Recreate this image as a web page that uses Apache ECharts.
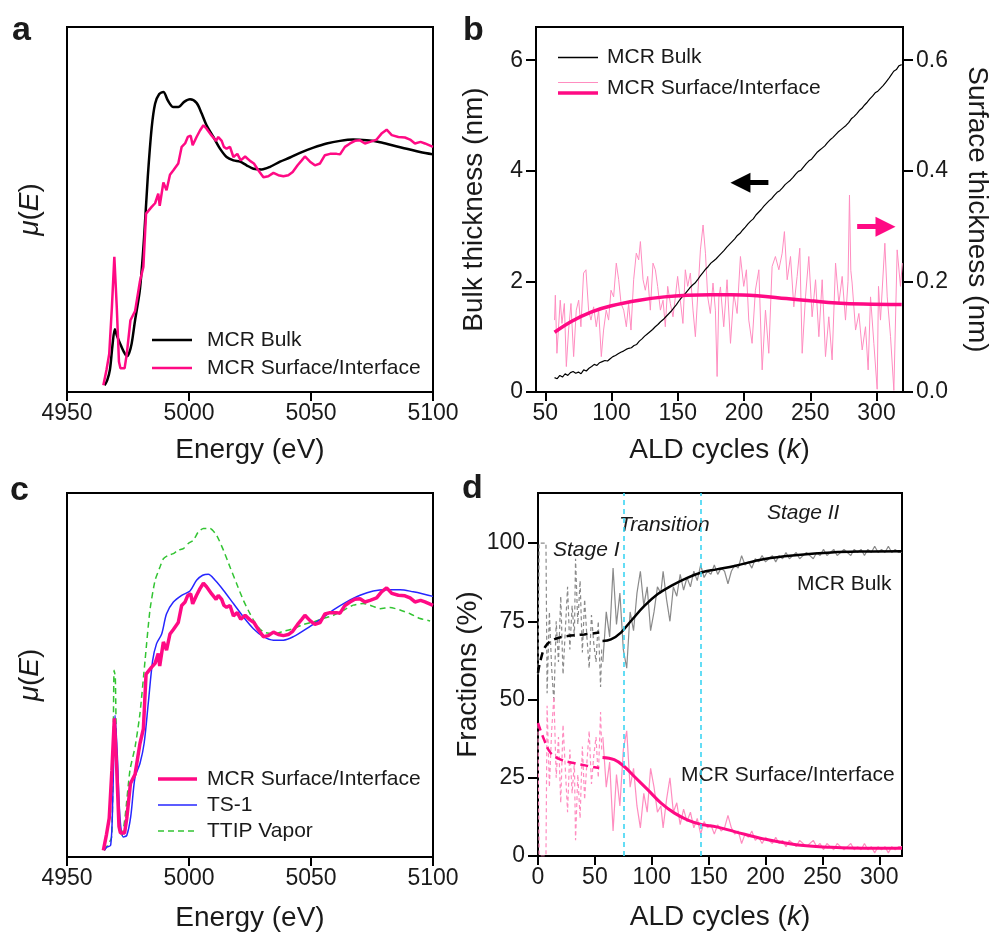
<!DOCTYPE html>
<html>
<head>
<meta charset="utf-8">
<script src="https://cdn.jsdelivr.net/npm/echarts@6/dist/echarts.min.js"></script>
<style>
html, body { margin: 0; padding: 0; background: #fff; }
#chart { width: 990px; height: 933px; }
</style>
</head>
<body>
<div id="chart"></div>
<script>
//---------------------------- 数据 --------------------------------------

// a / c: XANES，能量 (eV) 与 μ(E)（任意单位）
const aBulk = [[4965.4,0],[4966.5,0.02],[4967.6,0.06],[4968.6,0.15],[4969.6,0.215],[4970.5,0.19],[4971.7,0.162],[4973.2,0.13],[4974.6,0.112],[4975.5,0.125],[4976.5,0.16],[4977.9,0.25],[4979.9,0.37],[4981.6,0.57],[4983.1,0.8],[4984.7,0.99],[4986.1,1.083],[4987.8,1.12],[4989.5,1.128],[4991.3,1.096],[4993.6,1.07],[4995.6,1.07],[4998,1.09],[5000.4,1.1],[5003.1,1.086],[5005.2,1.045],[5007.2,1.0],[5010,0.955],[5012.7,0.91],[5015.4,0.878],[5018.2,0.865],[5020.9,0.86],[5023.6,0.846],[5026.4,0.833],[5029.8,0.83],[5033.2,0.84],[5037.3,0.86],[5041.4,0.876],[5045.5,0.894],[5051,0.914],[5056.4,0.93],[5061.9,0.94],[5067.3,0.945],[5072.8,0.942],[5078.3,0.935],[5083.7,0.922],[5089.2,0.91],[5094.7,0.897],[5100,0.888]];
const aSurf = [[4964.9,0],[4966.2,0.06],[4967.3,0.12],[4968.4,0.3],[4969.4,0.494],[4970.4,0.3],[4971.3,0.09],[4971.9,0.065],[4973.6,0.065],[4974.5,0.12],[4976,0.25],[4977.9,0.285],[4979.9,0.4],[4981.3,0.455],[4982.4,0.66],[4984.7,0.686],[4986.1,0.7],[4987.4,0.737],[4988,0.69],[4989.5,0.78],[4990.8,0.75],[4992.2,0.81],[4993.6,0.827],[4995.6,0.853],[4997,0.917],[4998.4,0.93],[4999.5,0.955],[5000.7,0.96],[5001.5,0.923],[5003.1,0.955],[5004.5,0.98],[5005.9,1.0],[5007.2,0.987],[5009.3,0.96],[5011.1,0.94],[5012,0.955],[5013.4,0.94],[5014.3,0.917],[5015.4,0.91],[5016.8,0.917],[5018.2,0.878],[5019.8,0.89],[5021.2,0.865],[5023,0.88],[5025,0.863],[5026.6,0.853],[5028.4,0.827],[5030.5,0.8],[5032.5,0.804],[5034.6,0.817],[5036.6,0.808],[5038.7,0.804],[5040.7,0.808],[5042.5,0.82],[5044.5,0.846],[5046.2,0.865],[5047.5,0.88],[5049.6,0.86],[5051.6,0.846],[5053.7,0.853],[5055.7,0.885],[5057.8,0.89],[5060.5,0.89],[5061.9,0.888],[5063.9,0.917],[5066,0.93],[5068,0.94],[5070.1,0.942],[5072.1,0.93],[5074.2,0.936],[5076.9,0.945],[5078.9,0.968],[5081,0.983],[5083.1,0.962],[5085.8,0.955],[5088.5,0.953],[5090.6,0.945],[5092.6,0.93],[5094.9,0.936],[5096.7,0.93],[5100,0.917]];
const cTS1 = [[4965.3,0],[4966.3,0.012],[4967.9,0.019],[4968.7,0.175],[4969.7,0.506],[4970.6,0.36],[4971.7,0.125],[4973.1,0.05],[4974.5,0.056],[4976.1,0.125],[4977.9,0.275],[4979.9,0.325],[4981.6,0.4],[4983.3,0.55],[4985.1,0.71],[4986.7,0.774],[4988.8,0.81],[4990.8,0.886],[4993.6,0.93],[4997,0.955],[5000.4,0.971],[5003.1,1.011],[5005.6,1.03],[5007.9,1.034],[5010.7,1.011],[5014.1,0.974],[5018.2,0.924],[5022.3,0.874],[5026.4,0.83],[5030.5,0.8],[5034.6,0.787],[5038.7,0.787],[5042.8,0.8],[5048.2,0.83],[5053.7,0.864],[5059.2,0.9],[5064.6,0.93],[5070.1,0.955],[5075.5,0.971],[5081,0.976],[5086.5,0.976],[5091.9,0.968],[5096,0.96],[5100,0.951]];
const cTTIP = [[4965.3,0],[4968.3,0.05],[4969.3,0.674],[4969.8,0.65],[4970.4,0.3],[4971.4,0.087],[4972.4,0.05],[4973.8,0.125],[4975.8,0.3],[4977.9,0.387],[4979.9,0.512],[4982,0.712],[4984,0.9],[4986.1,1.011],[4988.1,1.061],[4989.5,1.092],[4991.5,1.105],[4993.6,1.111],[4995.6,1.124],[4997.7,1.13],[4999.7,1.149],[5001.8,1.161],[5003.8,1.192],[5005.9,1.205],[5008.6,1.205],[5011.3,1.18],[5014.1,1.124],[5016.8,1.061],[5019.5,0.999],[5022.3,0.936],[5025,0.886],[5027.7,0.843],[5030.5,0.818],[5034.6,0.811],[5038.7,0.82],[5042.8,0.83],[5046.9,0.846],[5051,0.855],[5055.1,0.868],[5059.2,0.88],[5063.3,0.899],[5067.3,0.918],[5071.4,0.924],[5074.2,0.918],[5078.3,0.905],[5082.4,0.909],[5086.5,0.9],[5090.6,0.886],[5094.7,0.868],[5098.8,0.859]];

// b: 厚度随 ALD 循环数变化
const bBulk = [[57,0.26],[59,0.24],[61,0.3],[63,0.27],[65,0.33],[67,0.3],[69,0.35],[71,0.37],[73,0.34],[75,0.36],[77,0.33],[79,0.4],[81,0.38],[83,0.43],[85,0.46],[87,0.5],[89,0.48],[91,0.53],[93,0.55],[95,0.57],[97,0.56],[99,0.6],[101,0.64],[103,0.66],[105,0.69],[107,0.72],[109,0.74],[111,0.77],[113,0.79],[115,0.8],[117,0.84],[119,0.86],[121,0.92],[123,0.96],[125,1.01],[127,1.05],[129,1.09],[131,1.13],[133,1.18],[135,1.22],[137,1.27],[139,1.31],[141,1.36],[143,1.41],[145,1.46],[147,1.52],[149,1.58],[151,1.65],[153,1.71],[155,1.76],[157,1.82],[159,1.88],[161,1.93],[163,1.97],[165,2.03],[167,2.1],[169,2.16],[171,2.22],[173,2.27],[175,2.33],[177,2.37],[179,2.41],[181,2.46],[183,2.51],[185,2.56],[187,2.62],[189,2.67],[191,2.72],[193,2.77],[195,2.83],[197,2.87],[199,2.93],[201,2.98],[203,3.04],[205,3.09],[207,3.13],[209,3.2],[211,3.25],[213,3.3],[215,3.36],[217,3.41],[219,3.46],[221,3.5],[223,3.56],[225,3.61],[227,3.64],[229,3.69],[231,3.75],[233,3.79],[235,3.83],[237,3.88],[239,3.94],[241,3.99],[243,4.01],[245,4.07],[247,4.13],[249,4.18],[251,4.21],[253,4.27],[255,4.33],[257,4.37],[259,4.41],[261,4.45],[263,4.51],[265,4.56],[267,4.6],[269,4.65],[271,4.7],[273,4.74],[275,4.78],[277,4.82],[279,4.87],[281,4.94],[283,4.98],[285,5.03],[287,5.09],[289,5.13],[291,5.19],[293,5.24],[295,5.3],[297,5.35],[299,5.41],[301,5.44],[303,5.49],[305,5.54],[307,5.6],[309,5.66],[311,5.73],[313,5.8],[315,5.83],[317,5.9],[319,5.92]];
const bSurfRaw = [[57,0.13],[57.6,0.175],[58.8,0.07],[61.3,0.166],[62.6,0.124],[64.4,0.16],[65.9,0.046],[67.6,0.112],[69.4,0.16],[71.4,0.064],[73.4,0.148],[75.2,0.166],[76.9,0.118],[78.9,0.215],[80.7,0.221],[82.7,0.148],[84.5,0.13],[86.5,0.154],[88.5,0.118],[90.3,0.148],[92.3,0.064],[94,0.112],[96,0.148],[97.8,0.13],[99.6,0.184],[101.6,0.172],[103.6,0.233],[105.4,0.203],[107.2,0.16],[109.2,0.148],[111.2,0.118],[112.9,0.16],[114.7,0.112],[116.7,0.203],[118.7,0.251],[120.5,0.239],[121.8,0.272],[123.8,0.203],[125.5,0.184],[127.3,0.209],[129.3,0.148],[131.3,0.233],[133.1,0.221],[134.8,0.191],[136.9,0.148],[138.9,0.166],[140.6,0.118],[142.4,0.191],[144.4,0.16],[146.4,0.136],[148.2,0.172],[149.9,0.209],[151.9,0.166],[153.9,0.124],[155.7,0.221],[157.5,0.191],[159.5,0.215],[161.5,0.148],[163.3,0.1],[165,0.172],[167.1,0.257],[169.1,0.302],[170.9,0.251],[172.6,0.172],[174.6,0.142],[176.6,0.197],[178.4,0.148],[179.7,0.028],[181,0.17],[182.2,0.19],[184.7,0.118],[187.2,0.203],[189.8,0.088],[192.3,0.178],[194.8,0.142],[197.3,0.245],[199.8,0.191],[201.8,0.221],[203.6,0.13],[206.1,0.088],[208.6,0.184],[211.2,0.221],[213.7,0.04],[216.2,0.148],[218.7,0.07],[221.2,0.227],[223.7,0.245],[226.3,0.221],[228.8,0.251],[230.5,0.29],[232.6,0.203],[235.1,0.245],[237.6,0.154],[240.1,0.209],[242.1,0.26],[243.9,0.07],[246.4,0.172],[248.9,0.245],[251.4,0.136],[254,0.203],[256.5,0.1],[259,0.203],[261.5,0.064],[264,0.136],[266.5,0.058],[269.1,0.233],[271.6,0.16],[274.1,0.209],[276.6,0.13],[278.5,0.2],[279.6,0.356],[280.6,0.22],[281.6,0.197],[284.2,0.112],[286.7,0.142],[289.2,0.076],[291.7,0.118],[293.7,0.04],[295.5,0.172],[298,0.088],[300.5,0.005],[301.5,0.191],[303,0.13],[306.3,0.269],[308.1,0.172],[310.6,0.1],[313.1,0.003],[315.6,0.257],[318.1,0.191],[319.5,0.233]];
const bSurfFit = [[57,0.108],[70,0.128],[85,0.145],[100,0.156],[121,0.166],[140,0.172],[157,0.175],[175,0.176],[190,0.176],[210,0.174],[232,0.169],[250,0.165],[270,0.161],[290,0.159],[319,0.158]];

// d: 组分分数 (%)，Stage I 用虚线
const dBulkRawI = [[0,58],[1,100],[3,100],[5,100],[7,100],[8,52],[10,78],[12,60],[14,49],[16,75],[18,62],[20,83],[22,58],[24,72],[26,86],[28,66],[30,80],[32,70],[33,95],[35,74],[37,88],[39,65],[41,82],[43,70],[45,60],[47,77],[49,68],[51,62],[53,75],[55,54],[56,66]];
const dSurfRawI = [[0,42],[1,0],[3,0],[5,0],[7,0],[8,48],[10,22],[12,40],[14,51],[16,25],[18,38],[20,17],[22,42],[24,28],[26,14],[28,34],[30,20],[32,30],[33,5],[35,26],[37,12],[39,35],[41,18],[43,30],[45,40],[47,23],[49,32],[51,38],[53,25],[55,46],[56,34]];
const dBulkRaw = [[57,62],[60,78],[63,70],[66,92],[69,74],[72,84],[75,66],[78,60],[81,78],[84,72],[87,84],[90,91],[93,80],[96,86],[99,72],[102,78],[105,86],[108,84],[110,91],[113,82],[116,75],[119,86],[122,83],[125,90],[128,85],[131,89],[134,86],[137,91],[140,88],[143,93],[146,89],[149,91],[152,90],[155,93],[158,90],[161,92],[164,91],[167,87],[170,91],[173,93],[176,92],[179,96],[182,93],[185,94],[188,92],[191,95],[194,94],[197,96],[200,94],[203,95],[206,96],[209,94],[212,96],[215,95],[218,97],[221,95],[224,96],[227,97],[230,95],[233,96],[236,97],[239,96],[242,95],[245,97],[248,96],[251,98],[254,96],[257,97],[260,98],[263,96],[266,97],[269,98],[272,97],[275,96],[278,98],[281,97],[284,98],[287,96],[290,98],[293,97],[296,99],[299,97],[302,98],[305,97],[308,99],[311,97],[314,98],[317,97],[320,97]];
const dSurfRaw = [[57,38],[60,22],[63,30],[66,8],[69,26],[72,16],[75,34],[78,40],[81,22],[84,28],[87,16],[90,9],[93,20],[96,14],[99,28],[102,22],[105,14],[108,16],[110,9],[113,18],[116,25],[119,14],[122,17],[125,10],[128,15],[131,11],[134,14],[137,9],[140,12],[143,7],[146,11],[149,9],[152,10],[155,7],[158,10],[161,8],[164,9],[167,13],[170,9],[173,7],[176,8],[179,4],[182,7],[185,6],[188,8],[191,5],[194,6],[197,4],[200,6],[203,5],[206,4],[209,6],[212,4],[215,5],[218,3],[221,5],[224,4],[227,3],[230,5],[233,4],[236,3],[239,4],[242,5],[245,3],[248,4],[251,2],[254,4],[257,3],[260,2],[263,4],[266,3],[269,2],[272,3],[275,4],[278,2],[281,3],[284,2],[287,4],[290,2],[293,3],[296,1],[299,3],[302,2],[305,3],[308,1],[311,3],[314,2],[317,3],[320,3]];
const dBulkFitI = [[0,58.5],[2.4,62.8],[6.8,67.1],[14.1,69.2],[25.9,70.3],[40.6,70.8],[53.8,71.4]];
const dBulkFit = [[56.7,68.7],[64.1,69.2],[72.9,71.4],[81.7,75.1],[93.5,79.9],[105.3,83.7],[117,86.3],[128.8,88.5],[143.5,90.6],[157,91.6],[172.8,92.7],[199.2,94.9],[228.6,96.2],[258,97],[287.4,97.3],[320,97.4]];
const dSurfFitI = [[0,42.5],[5.3,37.2],[11.2,32.9],[20,30.8],[31.7,29.7],[43.5,28.8],[53.8,28.1]];
const dSurfFit = [[56.7,31.5],[67,30.8],[75.8,28.6],[84.7,25.4],[96.4,21.2],[108.2,16.9],[120,13.7],[131.7,11.5],[143.5,10.1],[157,9.3],[172.8,7.8],[199.2,5.4],[228.6,3.5],[258,2.8],[287,2.5],[320,2.5]];
const dStageBounds = [75, 143];

// 刻度
const energyTicks = [4950, 5000, 5050, 5100];
const bCycleTicks = [50, 100, 150, 200, 250, 300];
const bBulkTicks = [0, 2, 4, 6];
const bSurfTicks = [0, 0.2, 0.4, 0.6];
const dCycleTicks = [0, 50, 100, 150, 200, 250, 300];
const dFracTicks = [0, 25, 50, 75, 100];

//---------------------------- 样式 --------------------------------------
const FONT = '"Liberation Sans", Arial, Helvetica, sans-serif';
const TXT = '#1a1a1a';
const PINK = '#ff0a84';
const LPINK = '#ff8dc0';
const GRAY = '#8a8a8a';
const CYAN = '#3dd5f3';
const BLUE = '#2626ff';
const GREEN = '#33c433';

function nameStyle(size) {
    return {
        fontFamily: FONT, fontSize: size, color: TXT,
        rich: { i: { fontFamily: FONT, fontSize: size, fontStyle: 'italic', color: TXT } }
    };
}

function plain(v) { return String(v); }

function xAx(gi, min, max, ticks, name, gap) {
    return {
        type: 'value', gridIndex: gi, min: min, max: max,
        name: name, nameLocation: 'middle', nameGap: gap, nameTextStyle: nameStyle(28),
        axisLine: { show: true, onZero: false, lineStyle: { color: '#000', width: 2 } },
        axisTick: { show: true, inside: false, length: 9, lineStyle: { color: '#000', width: 2 }, customValues: ticks },
        axisLabel: { show: true, margin: 10, fontFamily: FONT, fontSize: 23, color: TXT, customValues: ticks, formatter: plain },
        splitLine: { show: false }
    };
}

function yAx(gi, min, max, ticks, name, gap, pos, fmt) {
    const ax = {
        type: 'value', gridIndex: gi, min: min, max: max, position: pos || 'left',
        name: name, nameLocation: 'middle', nameGap: gap, nameTextStyle: nameStyle(28),
        axisLine: { show: true, onZero: false, lineStyle: { color: '#000', width: 2 } },
        axisTick: { show: !!ticks, inside: false, length: 10, lineStyle: { color: '#000', width: 2 } },
        axisLabel: { show: !!ticks, margin: 13, fontFamily: FONT, fontSize: 23, color: TXT, formatter: fmt || plain },
        splitLine: { show: false }
    };
    if (ticks) {
        ax.axisTick.customValues = ticks;
        ax.axisLabel.customValues = ticks;
    }
    if (pos === 'right') ax.nameRotate = -90;
    return ax;
}

function line(name, data, xi, yi, color, width, dash, extra) {
    return Object.assign({
        name: name, type: 'line', data: data, xAxisIndex: xi, yAxisIndex: yi,
        symbol: 'none', showSymbol: false, animation: false,
        lineStyle: { color: color, width: width, type: dash || 'solid' },
        itemStyle: { color: color },
        emphasis: { disabled: true }
    }, extra || {});
}

// 箭头（markLine，坐标走轴）
function arrowMark(color, from, to) {
    return {
        silent: true, animation: false,
        symbol: ['none', 'triangle'], symbolSize: 20,
        label: { show: false },
        lineStyle: { color: color, width: 5, type: 'solid', opacity: 1 },
        itemStyle: { color: color, opacity: 1 },
        emphasis: { disabled: true },
        data: [[{ coord: from }, { coord: to }]]
    };
}

//---------------------------- 图例 / 文字 --------------------------------------
function gLine(x1, y, x2, color, w, dash) {
    return { type: 'line', silent: true, shape: { x1: x1, y1: y, x2: x2, y2: y },
        style: { stroke: color, lineWidth: w, lineDash: dash || null } };
}
function gText(txt, x, y, font, align) {
    return { type: 'text', silent: true, x: x, y: y,
        style: { text: txt, font: font, fill: TXT, align: align || 'left', verticalAlign: 'middle',
            textAlign: align || 'left', textVerticalAlign: 'middle' } };
}
const F21 = '21px ' + FONT;
const I21 = 'italic 21px ' + FONT;
const B34 = 'bold 34px ' + FONT;

const graphics = [
    // 面板字母
    gText('a', 12, 31, B34), gText('b', 463, 31, B34), gText('c', 10, 491, B34), gText('d', 462, 489, B34),
    // a 图例
    gLine(152, 340, 192, '#000', 2.5), gText('MCR Bulk', 207, 340, F21),
    gLine(152, 368, 192, PINK, 2.5), gText('MCR Surface/Interface', 207, 368, F21),
    // b 图例
    gLine(558, 57.5, 598, '#000', 1.3), gText('MCR Bulk', 607, 57, F21),
    gLine(558, 82.5, 598, LPINK, 1.2), gLine(558, 93, 598, PINK, 3.5), gText('MCR Surface/Interface', 607, 88, F21),
    // c 图例
    gLine(158, 779, 197, PINK, 3.5), gText('MCR Surface/Interface', 207, 779, F21),
    gLine(158, 805, 197, BLUE, 1.5), gText('TS-1', 207, 805, F21),
    gLine(158, 831, 197, GREEN, 1.5, [6, 4]), gText('TTIP Vapor', 207, 831, F21),
    // d 标注
    gText('Stage I', 553, 550, I21), gText('Transition', 619, 525, I21), gText('Stage II', 767, 513, I21),
    gText('MCR Bulk', 797, 584, F21), gText('MCR Surface/Interface', 681, 775, F21)
];

//---------------------------- 图表 --------------------------------------
var chart = echarts.init(document.getElementById('chart'));

const gridBase = { show: true, borderColor: '#000', borderWidth: 2, containLabel: false, outerBoundsMode: 'none' };

var option = {
    animation: false,
    backgroundColor: '#fff',
    grid: [
        Object.assign({ left: 67, top: 27, width: 366, height: 365 }, gridBase),
        Object.assign({ left: 536, top: 27, width: 367, height: 365 }, gridBase),
        Object.assign({ left: 67, top: 493, width: 366, height: 364 }, gridBase),
        Object.assign({ left: 538, top: 493, width: 364, height: 363 }, gridBase)
    ],
    xAxis: [
        xAx(0, 4950, 5100, energyTicks, 'Energy (eV)', 44),
        xAx(1, 43, 320, bCycleTicks, 'ALD cycles ({i|k})', 44),
        xAx(2, 4950, 5100, energyTicks, 'Energy (eV)', 47),
        xAx(3, 0, 320, dCycleTicks, 'ALD cycles ({i|k})', 47)
    ],
    yAxis: [
        yAx(0, -0.026, 1.378, null, '{i|μ}({i|E})', 23),
        yAx(1, 0, 6.6, bBulkTicks, 'Bulk thickness (nm)', 48),
        yAx(1, 0, 0.66, bSurfTicks, 'Surface thickness (nm)', 60, 'right', function (v) { return v.toFixed(1); }),
        yAx(2, -0.025, 1.338, null, '{i|μ}({i|E})', 23),
        yAx(3, 0, 116, dFracTicks, 'Fractions (%)', 50)
    ],
    graphic: { elements: graphics },
    series: [
        // a
        line('MCR Bulk', aBulk, 0, 0, '#000', 2.5, null, { smooth: 0.3 }),
        line('MCR Surface/Interface', aSurf, 0, 0, PINK, 2.5),
        // b
        line('MCR Surface/Interface', bSurfRaw, 1, 2, LPINK, 1),
        line('MCR Bulk', bBulk, 1, 1, '#000', 1.2, null, { markLine: arrowMark('#000', [218.4, 3.785], [197.3, 3.785]) }),
        line('MCR Surface/Interface', bSurfFit, 1, 2, PINK, 3.5, null, { smooth: 0.4, markLine: arrowMark(PINK, [285.4, 0.299], [306.8, 0.299]) }),
        // c
        line('TTIP Vapor', cTTIP, 2, 3, GREEN, 1.5, [6, 4], { smooth: 0.2 }),
        line('TS-1', cTS1, 2, 3, BLUE, 1.5, null, { smooth: 0.3 }),
        line('MCR Surface/Interface', aSurf, 2, 3, PINK, 3.5),
        // d
        line('MCR Bulk', dBulkRawI, 3, 4, GRAY, 1.2, [4, 3]),
        line('MCR Bulk', dBulkRaw, 3, 4, GRAY, 1.2),
        line('MCR Surface/Interface', dSurfRawI, 3, 4, LPINK, 1.2, [4, 3]),
        line('MCR Surface/Interface', dSurfRaw, 3, 4, LPINK, 1.2),
        line('MCR Bulk', dBulkFitI, 3, 4, '#000', 2.5, [8, 5], { smooth: 0.4 }),
        line('MCR Bulk', dBulkFit, 3, 4, '#000', 2.5, null, {
            smooth: 0.4,
            markLine: {
                silent: true, animation: false, symbol: ['none', 'none'], label: { show: false },
                lineStyle: { color: CYAN, width: 1.6, type: [5, 4] },
                emphasis: { disabled: true },
                data: dStageBounds.map(function (k) { return { xAxis: k }; })
            }
        }),
        line('MCR Surface/Interface', dSurfFitI, 3, 4, PINK, 2.5, [8, 5], { smooth: 0.4 }),
        line('MCR Surface/Interface', dSurfFit, 3, 4, PINK, 3, null, { smooth: 0.4 })
    ]
};

chart.setOption(option);
</script>
</body>
</html>
